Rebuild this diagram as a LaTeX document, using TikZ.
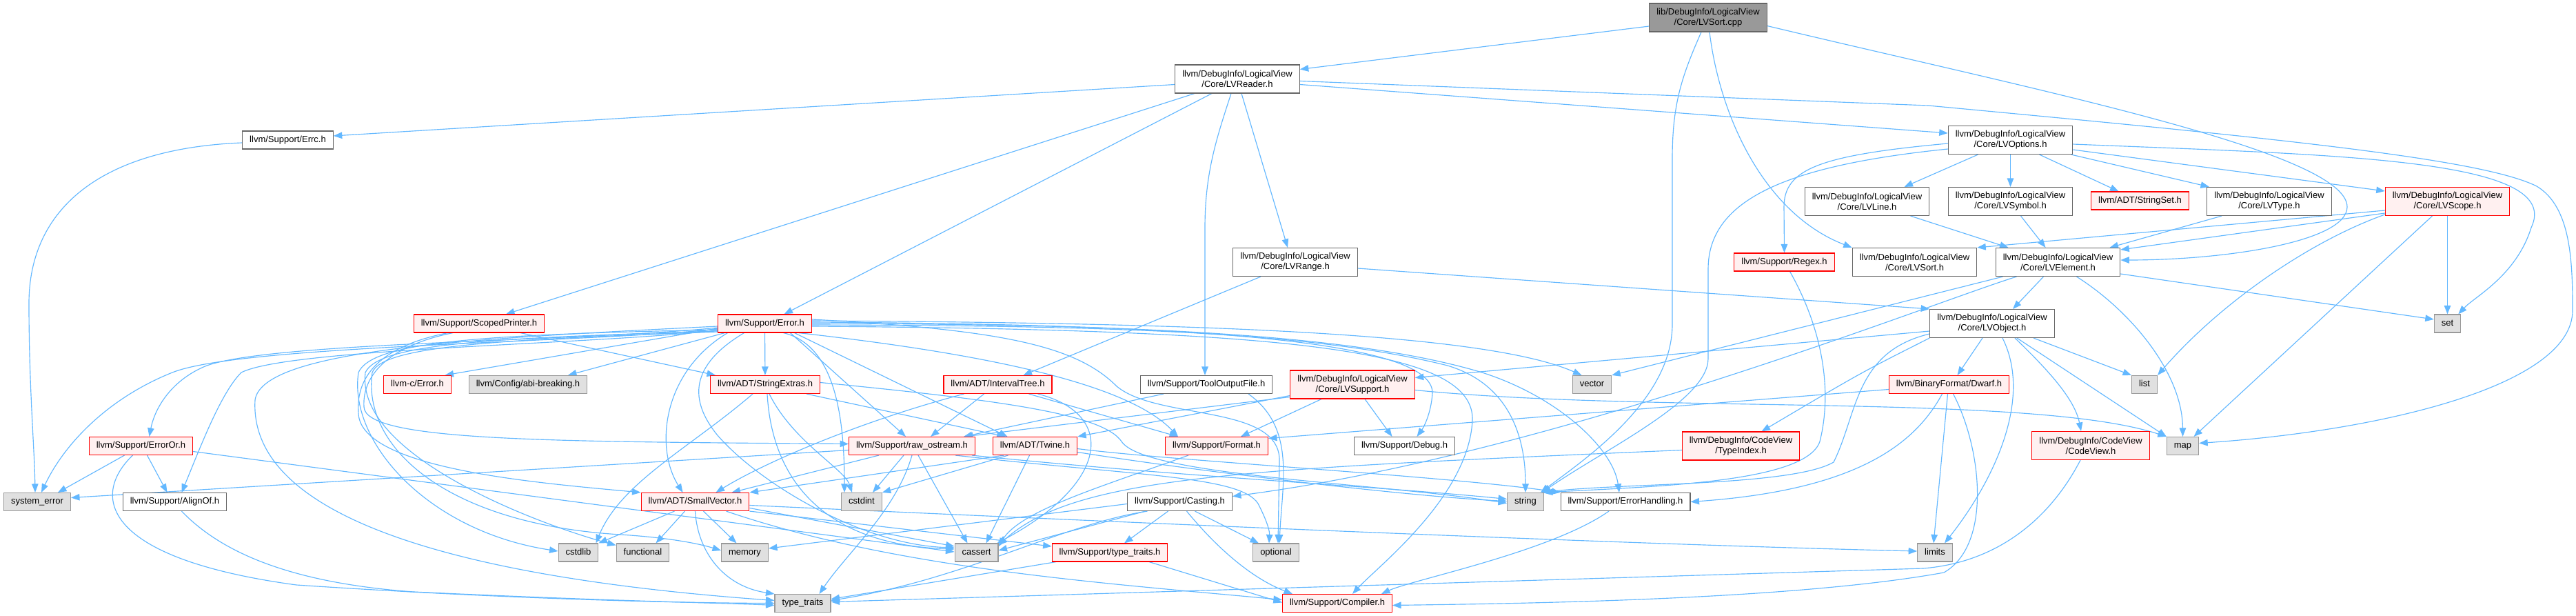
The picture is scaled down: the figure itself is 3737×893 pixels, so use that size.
\documentclass[tikz,border=0pt]{standalone}
\usepackage{fontspec}
\setmainfont{Liberation Sans}
\usetikzlibrary{arrows.meta}
\definecolor{edgec}{HTML}{63B8FF}
\definecolor{nborder}{HTML}{666666}
\definecolor{tborder}{HTML}{FF0000}
\definecolor{tfill}{HTML}{FFF0F0}
\definecolor{sborder}{HTML}{999999}
\definecolor{sfill}{HTML}{E0E0E0}
\definecolor{mfill}{HTML}{999999}
\pgfdeclarelayer{bg}
\pgfsetlayers{bg,main}
\tikzset{
  box/.style={draw=nborder, fill=white, line width=1.1pt, font=\fontsize{13}{15}\selectfont,
    inner xsep=10.5pt, inner ysep=0pt, align=center},
  box1/.style={box, minimum height=26pt, text height=9.5pt, text depth=2.8pt},
  box2/.style={box, minimum height=41pt},
  trunc/.style={draw=tborder, fill=tfill},
  sys/.style={draw=sborder, fill=sfill},
  mainn/.style={draw=nborder, fill=mfill},
  conn/.style={draw=edgec, line width=1.15pt, -{Triangle[length=12.5pt,width=9.5pt]}}
}
\begin{document}
\begin{tikzpicture}[x=1pt,y=-1pt]
\useasboundingbox (0,0) rectangle (3737,893);

% nodes
\node[box2,mainn] (main) at (2478,25.5) {lib/DebugInfo/LogicalView\\/Core/LVSort.cpp};
\node[box2] (rdr) at (1795,114.5) {llvm/DebugInfo/LogicalView\\/Core/LVReader.h};
\node[box1] (errc) at (417.5,203) {llvm/Support/Errc.h};
\node[box2] (opt) at (2916.5,203) {llvm/DebugInfo/LogicalView\\/Core/LVOptions.h};
\node[box2] (line) at (2708.5,292) {llvm/DebugInfo/LogicalView\\/Core/LVLine.h};
\node[box2] (sym) at (2916.5,292) {llvm/DebugInfo/LogicalView\\/Core/LVSymbol.h};
\node[box1,trunc] (sset) at (3104.5,291) {llvm/ADT/StringSet.h};
\node[box2] (type) at (3292,292) {llvm/DebugInfo/LogicalView\\/Core/LVType.h};
\node[box2,trunc] (scope) at (3550.5,292) {llvm/DebugInfo/LogicalView\\/Core/LVScope.h};
\node[box2] (range) at (1879,380) {llvm/DebugInfo/LogicalView\\/Core/LVRange.h};
\node[box1,trunc] (regex) at (2588.5,380) {llvm/Support/Regex.h};
\node[box2] (sorth) at (2777.5,380) {llvm/DebugInfo/LogicalView\\/Core/LVSort.h};
\node[box2] (elem) at (2985.5,380) {llvm/DebugInfo/LogicalView\\/Core/LVElement.h};
\node[box1,trunc] (sprt) at (695,469) {llvm/Support/ScopedPrinter.h};
\node[box1,trunc] (err) at (1109.5,469) {llvm/Support/Error.h};
\node[box2] (obj) at (2890,469) {llvm/DebugInfo/LogicalView\\/Core/LVObject.h};
\node[box1,sys] (set) at (3550.5,469) {set};
\node[box1,trunc] (cerr) at (605.5,557.5) {llvm-c/Error.h};
\node[box1,sys] (abi) at (766,557.5) {llvm/Config/abi-breaking.h};
\node[box1,trunc] (sext) at (1110,557.5) {llvm/ADT/StringExtras.h};
\node[box1,trunc] (itree) at (1447.5,557.5) {llvm/ADT/IntervalTree.h};
\node[box1] (tof) at (1750,557.5) {llvm/Support/ToolOutputFile.h};
\node[box2,trunc] (supp) at (1962,557.5) {llvm/DebugInfo/LogicalView\\/Core/LVSupport.h};
\node[box1,sys] (vec) at (2309.5,557.5) {vector};
\node[box1,trunc] (dwarf) at (2827.5,557.5) {llvm/BinaryFormat/Dwarf.h};
\node[box1,sys] (list) at (3111,557.5) {list};
\node[box1,trunc] (eor) at (204.5,646.5) {llvm/Support/ErrorOr.h};
\node[box1,trunc] (ros) at (1323,646.5) {llvm/Support/raw\_ostream.h};
\node[box1,trunc] (twine) at (1501.5,646.5) {llvm/ADT/Twine.h};
\node[box1,trunc] (fmt) at (1765,646.5) {llvm/Support/Format.h};
\node[box1] (dbg) at (2037.5,646.5) {llvm/Support/Debug.h};
\node[box2,trunc] (tidx) at (2525.5,646.5) {llvm/DebugInfo/CodeView\\/TypeIndex.h};
\node[box2,trunc] (cv) at (3033,646) {llvm/DebugInfo/CodeView\\/CodeView.h};
\node[box1,sys] (map) at (3166.5,646.5) {map};
\node[box1,sys] (syserr) at (54,727.5) {system\_error};
\node[box1] (align) at (253.5,727.5) {llvm/Support/AlignOf.h};
\node[box1,trunc] (svec) at (1008.5,727.5) {llvm/ADT/SmallVector.h};
\node[box1,sys] (cstdint) at (1250,727.5) {cstdint};
\node[box1] (cast) at (1711.5,727.5) {llvm/Support/Casting.h};
\node[box1,sys] (str) at (2213,727.5) {string};
\node[box1] (ehand) at (2358,727.5) {llvm/Support/ErrorHandling.h};
\node[box1,sys] (cstdlib) at (839,801) {cstdlib};
\node[box1,sys] (func) at (932.5,801) {functional};
\node[box1,sys] (mem) at (1080.5,801) {memory};
\node[box1,sys] (cassert) at (1416.5,801) {cassert};
\node[box1,trunc] (tth) at (1610,801) {llvm/Support/type\_traits.h};
\node[box1,sys] (optl) at (1851,801) {optional};
\node[box1,sys] (limits) at (2807,801) {limits};
\node[box1,sys] (tt) at (1164.5,874.5) {type\_traits};
\node[box1,trunc] (comp) at (1940,874.5) {llvm/Support/Compiler.h};

\begin{pgfonlayer}{bg}
\fill[white] (0,0) rectangle (3737,893);
% main
\draw[conn] ([yshift=-12.5pt]main.west) -- ([yshift=14pt]rdr.east);
\draw[conn] ([xshift=-10pt]main.south) .. controls (2440,110) and (2426,150) .. (2426,230) -- (2426,470) .. controls (2426,580) and (2300,665) .. ([xshift=-5pt]str.north east);
\draw[conn] ([xshift=2pt]main.south) .. controls (2495,170) and (2560,310) .. (sorth.north west);
\draw[conn] ([yshift=-12pt]main.east) .. controls (2950,130) and (3405,220) .. (3405,300) .. controls (3405,350) and (3230,377) .. ([yshift=3pt]elem.east);
% reader
\draw[conn] ([yshift=-8pt]rdr.west) -- ([yshift=6pt]errc.east);
\draw[conn] ([xshift=-62pt]rdr.south) -- ([xshift=39pt]sprt.north);
\draw[conn] ([xshift=-37pt]rdr.south) -- ([xshift=28pt]err.north);
\draw[conn] ([xshift=-9pt]rdr.south) .. controls (1765,200) and (1748,250) .. (1748,330) -- ([xshift=-2pt]tof.north);
\draw[conn] ([xshift=6pt]rdr.south) -- ([xshift=-11pt]range.north);
\draw[conn] ([yshift=-8pt]rdr.east) -- ([yshift=10pt]opt.west);
\draw[conn] ([yshift=-3pt]rdr.east) -- (2797,153) .. controls (3300,200) and (3600,230) .. (3680,270) .. controls (3730,300) and (3732,380) .. (3732,450) .. controls (3732,560) and (3450,625) .. ([yshift=4pt]map.east);
% range
\draw[conn] ([xshift=-50pt]range.south) -- ([xshift=37pt]itree.north);
\draw[conn] ([yshift=-9pt]range.east) -- (obj.north west);
% options
\draw[conn] ([xshift=42pt]opt.south) -- ([xshift=-31pt]sset.north);
\draw[conn] ([xshift=-47pt]opt.south) -- ([xshift=54pt]line.north);
\draw[conn] ([yshift=-14pt]opt.east) -- ([yshift=15pt]scope.west);
\draw[conn] (opt) -- (sym);
\draw[conn] ([xshift=88pt]opt.south) -- ([xshift=-87pt]type.north);
\draw[conn] ([yshift=-5pt]opt.west) .. controls (2640,225) and (2588,245) .. (2588,300) -- (regex.north);
\draw[conn] ([yshift=-13pt]opt.west) .. controls (2590,240) and (2478,290) .. (2478,390) -- (2478,520) .. controls (2478,580) and (2330,650) .. ([xshift=-3pt]str.north east);
\draw[conn] ([yshift=-6pt]opt.east) .. controls (3400,225) and (3720,230) .. (3672,330) .. controls (3650,400) and (3590,430) .. ([xshift=-4pt]set.north east);
% line, symbol, type
\draw[conn] ([xshift=63pt]line.south) -- ([xshift=-72pt]elem.north);
\draw[conn] ([xshift=15pt]sym.south) -- ([xshift=-18pt]elem.north);
\draw[conn] ([xshift=-69pt]type.south) -- ([xshift=75pt]elem.north);
% scope
\draw[conn] ([yshift=-13pt]scope.west) -- (sorth.north east);
\draw[conn] ([yshift=-17pt]scope.west) -- ([yshift=18pt]elem.east);
\draw[conn] ([yshift=-19pt]scope.west) .. controls (3350,350) and (3220,440) .. (list.north east);
\draw[conn] ([xshift=-22pt]scope.south) -- ([xshift=16pt]map.north);
\draw[conn] (scope) -- (set);
% element
\draw[conn] ([xshift=-21pt]elem.south) -- ([xshift=30pt]obj.north);
\draw[conn] ([xshift=27pt]elem.south) .. controls (3090,450) and (3166,540) .. (map.north);
\draw[conn] ([yshift=-17pt]elem.east) -- ([yshift=6pt]set.west);
\draw[conn] ([xshift=-80pt]elem.south) -- (vec.north east);
\draw[conn] ([xshift=-60pt]elem.south) .. controls (2800,440) and (2250,660) .. ([yshift=8pt]cast.east);
% object
\draw[conn] ([xshift=-14pt]obj.south) -- ([xshift=12pt]dwarf.north);
\draw[conn] ([xshift=15pt]obj.south) .. controls (2950,580) and (2890,700) .. ([xshift=14pt]limits.north);
\draw[conn] ([xshift=33pt]obj.south) .. controls (2975,540) and (3010,580) .. ([xshift=-14pt]cv.north);
\draw[conn] ([xshift=36pt]obj.south) -- (map.north west);
\draw[conn] ([xshift=60pt]obj.south) -- (list.north west);
\draw[conn] ([yshift=-11pt]obj.west) -- ([yshift=10pt]supp.east);
\draw[conn] (obj.south west) .. controls (2700,540) .. ([xshift=30pt]tidx.north);
\draw[conn] ([yshift=-15pt]obj.west) .. controls (2690,510) and (2695,600) .. (2660,670) .. controls (2600,705) and (2350,700) .. ([xshift=-3pt]str.north east);
% dwarf
\draw[conn] ([yshift=-7pt]dwarf.west) -- ([yshift=11pt]fmt.east);
\draw[conn] ([xshift=-10pt]dwarf.south) .. controls (2780,640) and (2700,710) .. (ehand.east);
\draw[conn] ([xshift=-2pt]dwarf.south) -- ([xshift=-2pt]limits.north);
\draw[conn] ([xshift=6pt]dwarf.south) .. controls (2875,650) and (2890,790) .. (2820,830) .. controls (2600,870) and (2200,875) .. ([yshift=-3pt]comp.east);
% codeview, typeindex, regex
\draw[conn] ([xshift=-15pt]cv.south) .. controls (2975,750) and (2900,815) .. (2790,824) -- ([yshift=2pt]tt.east);
\draw[conn] ([yshift=-6pt]tidx.west) .. controls (1800,680) and (1560,690) .. ([yshift=-3pt]cassert.north east);
\draw[conn] ([xshift=8pt]regex.south) .. controls (2640,470) and (2660,560) .. (2640,640) .. controls (2620,700) and (2400,705) .. (str.north east);
% support
\draw[conn] ([xshift=18pt]supp.south) -- ([xshift=-18pt]dbg.north);
\draw[conn] ([yshift=-8pt]supp.east) .. controls (2400,600) and (2950,570) .. (map.north west);
\draw[conn] ([yshift=-16pt]supp.west) -- (twine.north east);
\draw[conn] ([yshift=-18pt]supp.west) -- ([xshift=-16pt]ros.north east);
\draw[conn] ([xshift=-45pt]supp.south) -- ([xshift=35pt]fmt.north);
% tooloutputfile
\draw[conn] ([xshift=-62pt]tof.south) -- ([xshift=75pt]ros.north);
\draw[conn] ([xshift=61pt]tof.south) .. controls (1880,620) and (1860,700) .. ([xshift=5pt]optl.north);
% intervaltree
\draw[conn] ([xshift=-49pt]itree.south) .. controls (1250,610) and (1110,670) .. ([xshift=30pt]svec.north);
\draw[conn] ([xshift=-20pt]itree.south) -- ([xshift=27pt]ros.north);
\draw[conn] ([xshift=45pt]itree.south) -- ([xshift=-56pt]fmt.north);
\draw[conn] ([xshift=58pt]itree.south) .. controls (1620,600) and (1610,700) .. ([xshift=-2pt]cassert.north east);
% raw_ostream
\draw[conn] ([xshift=-48pt]ros.south) -- ([xshift=53pt]svec.north);
\draw[conn] ([xshift=-12pt]ros.south) -- ([xshift=16pt]cstdint.north);
\draw[conn] ([xshift=9pt]ros.south) -- ([xshift=-13pt]cassert.north);
\draw[conn] (ros.south) .. controls (1300,740) and (1230,800) .. ([xshift=24pt]tt.north);
\draw[conn] ([xshift=63pt]ros.south) .. controls (1650,690) and (1800,690) .. (1825,730) .. controls (1838,755) and (1842,770) .. ([xshift=-10pt]optl.north);
\draw[conn] ([xshift=87pt]ros.south) .. controls (1700,690) and (2000,705) .. ([yshift=4pt]str.west);
\draw[conn] ([yshift=-6pt]ros.west) -- ([yshift=6pt]syserr.east);
% twine
\draw[conn] ([xshift=-45pt]twine.south) -- (svec.north east);
\draw[conn] ([xshift=-39pt]twine.south) -- (cstdint.north east);
\draw[conn] ([xshift=-8pt]twine.south) -- ([xshift=14pt]cassert.north);
\draw[conn] ([yshift=-4pt]twine.east) .. controls (1700,668) and (2100,690) .. (ehand.north west);
\draw[conn] ([yshift=-9pt]twine.east) .. controls (1750,685) and (2050,720) .. ([yshift=1pt]str.west);
% format
\draw[conn] ([xshift=-41pt]fmt.south) .. controls (1600,705) and (1480,740) .. ([yshift=-5pt]cassert.north east);
% casting
\draw[conn] ([yshift=-3pt]cast.west) -- ([yshift=6pt]mem.east);
\draw[conn] ([xshift=-50pt]cast.south) -- ([yshift=3pt]cassert.east);
\draw[conn] ([xshift=-47pt]cast.south) .. controls (1540,760) and (1400,840) .. ([yshift=4pt]tt.east);
\draw[conn] ([xshift=-17pt]cast.south) -- ([xshift=21pt]tth.north);
\draw[conn] ([xshift=22pt]cast.south) -- ([xshift=-25pt]optl.north);
\draw[conn] ([xshift=10pt]cast.south) .. controls (1770,800) and (1820,840) .. ([xshift=-65pt]comp.north);
% type_traits.h, errorhandling
\draw[conn] ([xshift=-78pt]tth.south) -- ([yshift=6pt]tt.east);
\draw[conn] ([xshift=57pt]tth.south) -- ([yshift=1pt]comp.west);
\draw[conn] ([xshift=-24pt]ehand.south) .. controls (2250,800) and (2050,840) .. ([xshift=64pt]comp.north);
% smallvector
\draw[conn] ([xshift=-30pt]svec.south) -- (cstdlib.north east);
\draw[conn] ([xshift=-15pt]svec.south) -- ([xshift=19pt]func.north);
\draw[conn] (svec.south) .. controls (1012,800) and (1050,850) .. (tt.north west);
\draw[conn] ([xshift=12pt]svec.south) -- ([xshift=-12pt]mem.north);
\draw[conn] ([xshift=45pt]svec.south) .. controls (1300,825) and (1600,845) .. ([yshift=5pt]comp.west);
\draw[conn] ([yshift=-5pt]svec.east) .. controls (1800,765) and (2400,790) .. ([yshift=2pt]limits.west);
\draw[conn] ([yshift=-9pt]svec.east) -- ([yshift=9pt]cassert.west);
\draw[conn] (svec.south east) -- ([yshift=9pt]tth.west);
% errorOr, alignof, errc
\draw[conn] ([xshift=-24pt]eor.south) -- ([xshift=30pt]syserr.north);
\draw[conn] ([xshift=9pt]eor.south) -- ([xshift=-11pt]align.north);
\draw[conn] ([xshift=-12pt]eor.south) .. controls (130,720) and (150,810) .. (430,848) .. controls (700,866) and (950,874) .. (tt.west);
\draw[conn] ([yshift=-8pt]eor.east) -- ([yshift=1pt]cassert.west);
\draw[conn] ([xshift=10pt]align.south) .. controls (320,800) and (420,845) .. (600,858) .. controls (900,872) and (1050,874) .. ([yshift=-3pt]tt.west);
\draw[conn] ([yshift=-4pt]errc.west) .. controls (150,215) and (42,300) .. (42,440) .. controls (42,560) and (50,650) .. ([xshift=-3pt]syserr.north);
% stringextras
\draw[conn] ([xshift=60pt]sext.south) -- ([xshift=-43pt]twine.north);
\draw[conn] ([xshift=6pt]sext.south) .. controls (1150,640) and (1225,680) .. ([xshift=-14pt]cstdint.north);
\draw[conn] ([xshift=3pt]sext.south) .. controls (1120,700) and (1200,790) .. ([yshift=5pt]cassert.west);
\draw[conn] ([xshift=-18pt]sext.south) .. controls (1000,650) and (900,700) .. ([xshift=-4pt]cstdlib.north east);
\draw[conn] ([yshift=3pt]sext.east) .. controls (1450,580) and (1600,600) .. (1627,640) .. controls (1660,690) and (2000,700) .. ([yshift=-2pt]str.west);
% scopedprinter
\draw[conn] ([xshift=60pt]sprt.south) -- ([xshift=8pt]sext.north west);
\draw[conn] ([xshift=-45pt]sprt.south) .. controls (560,500) and (515,540) .. (520,600) .. controls (525,680) and (780,700) .. (svec.north west);
\draw[conn] ([xshift=-38pt]sprt.south) .. controls (570,500) and (525,540) .. (528,590) .. controls (530,640) and (800,640) .. ([yshift=3pt]ros.west);
% error
\draw[conn] (err) -- (sext);
\draw[conn] ([yshift=-7pt]err.west) -- ([xshift=40pt]cerr.north);
\draw[conn] ([xshift=-58pt]err.south) -- ([xshift=58pt]abi.north);
\draw[conn] ([yshift=-6pt]err.west) .. controls (850,495) and (400,495) .. (300,530) .. controls (250,550) and (225,590) .. ([xshift=12pt]eor.north);
\draw[conn] ([yshift=-8pt]err.west) .. controls (850,497) and (350,500) .. (250,540) .. controls (150,580) and (90,650) .. ([xshift=6pt]syserr.north);
\draw[conn] ([yshift=-10pt]err.west) .. controls (850,500) and (420,505) .. (350,540) .. controls (320,570) and (290,650) .. ([xshift=10pt]align.north);
\draw[conn] ([yshift=-9pt]err.west) .. controls (700,485) and (540,495) .. (520,540) .. controls (505,640) and (620,770) .. ([yshift=2pt]cstdlib.west);
\draw[conn] ([yshift=-11pt]err.west) .. controls (720,490) and (550,497) .. (530,540) .. controls (515,660) and (780,760) .. ([yshift=-3pt]func.north west);
\draw[conn] ([yshift=-12pt]err.west) .. controls (740,492) and (555,500) .. (540,540) .. controls (525,650) and (650,760) .. (900,775) .. controls (980,780) and (1020,790) .. ([yshift=3pt]mem.west);
\draw[conn] ([yshift=-4pt]err.west) .. controls (700,490) and (380,505) .. (370,580) .. controls (360,760) and (700,840) .. ([yshift=4pt]tt.west);
\draw[conn] ([xshift=-30pt]err.south) .. controls (1000,530) and (1000,580) .. (1040,630) .. controls (1100,700) and (1250,790) .. ([yshift=7pt]cassert.west);
\draw[conn] ([xshift=-54pt]err.south) .. controls (960,540) and (950,650) .. ([xshift=-18pt]svec.north);
\draw[conn] ([xshift=27pt]err.south) .. controls (1210,500) and (1225,600) .. ([xshift=-25pt]cstdint.north);
\draw[conn] ([xshift=37pt]err.south) -- ([xshift=-9pt]ros.north);
\draw[conn] ([xshift=43pt]err.south) -- ([xshift=-40pt]twine.north);
\draw[conn] ([xshift=49pt]err.south) .. controls (1450,515) and (1640,560) .. ([xshift=-56pt]fmt.north);
\draw[conn] ([yshift=2pt]err.east) .. controls (1700,470) and (2080,490) .. (2078,570) .. controls (2076,600) and (2065,620) .. ([xshift=18pt]dbg.north);
\draw[conn] (err.east) .. controls (1600,470) and (1950,480) .. (2150,540) .. controls (2260,575) and (2340,650) .. ([xshift=-9pt]ehand.north);
\draw[conn] ([yshift=-2pt]err.east) .. controls (1600,472) and (1900,480) .. (2100,530) .. controls (2200,560) and (2213,650) .. (str.north);
\draw[conn] ([yshift=4pt]err.east) .. controls (1700,468) and (2150,480) .. ([xshift=-15pt]vec.north);
\draw[conn] ([yshift=-4pt]err.east) .. controls (1900,478) and (2140,510) .. (2136,610) .. controls (2130,720) and (2000,820) .. ([xshift=22pt]comp.north);
\draw[conn] ([yshift=6pt]err.east) .. controls (1450,478) and (1560,500) .. (1620,560) .. controls (1680,610) and (1860,585) .. (1856,670) -- ([xshift=3pt]optl.north);
\end{pgfonlayer}
\end{tikzpicture}
\end{document}
